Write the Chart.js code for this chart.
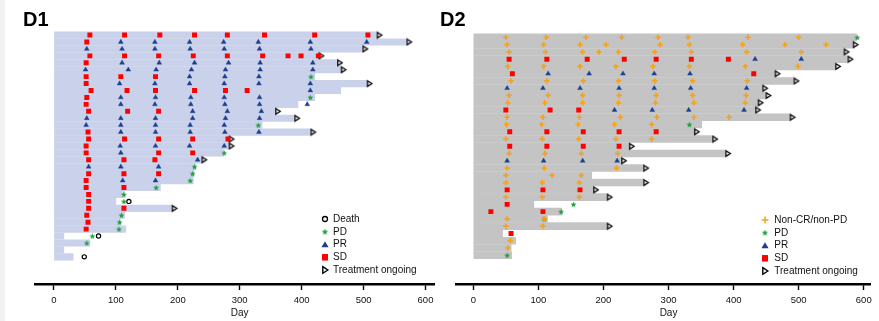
<!DOCTYPE html>
<html>
<head>
<meta charset="utf-8">
<script src="https://cdn.jsdelivr.net/npm/chart.js@4/dist/chart.umd.min.js"></script>
<style>
  html, body { margin: 0; padding: 0; background: #fff; width: 879px; height: 321px; overflow: hidden; }
  body { position: relative; font-family: 'Liberation Sans', Arial, sans-serif; }
  #strip { position: absolute; left: 0; top: 0; width: 5px; height: 321px; background: #f2f2f2; }
  #c1 { position: absolute; left: 0; top: 0; }
  #c2 { position: absolute; left: 440px; top: 0; }
  .panel { position: absolute; font-weight: bold; font-size: 20px; line-height: 20px; color: #000; }
</style>
</head>
<body>
<div id="strip"></div>
<canvas id="c1" width="440" height="321"></canvas>
<canvas id="c2" width="439" height="321"></canvas>
<div class="panel" style="left:23px;top:9px">D1</div>
<div class="panel" style="left:440px;top:9px">D2</div>
<script>
// ---------------- DATA ----------------
const xTicks = [0, 100, 200, 300, 400, 500, 600];
const axisTitle = 'Day';

// D1: treatment duration (days) per patient, top to bottom
const d1End = [521, 569, 498, 427, 457, 463, 421, 505, 463, 421, 394, 357, 388, 336, 414, 282, 282,
               274, 238, 229, 226, 225, 172, 114, 100, 190, 114, 107, 116, 16, 58, 16, 31];
const d1Ongoing = [1,1,1,1,1,1,0,1,0,0,0,1,1,0,1,1,1,0,1,0,0,0,0,0,0,1,0,0,0,0,0,0,0];
// [row, [assessment days]]
const d1SD = [
  [0, [58,114,171,227,280,340,421,507]], [1, [53]], [3, [58,114,169,225,280,337,378,399,427]],
  [4, [52]], [6, [52,108,164]], [7, [52]], [8, [60,118,164,227,277,312]], [9, [53]], [10, [52]],
  [11, [56,119,169]], [14, [55]], [15, [56,114,169,224,281]], [16, [52]], [17, [52,169,224]],
  [18, [56,113,163]], [20, [56,113,169]], [21, [52]], [22, [52,113]], [23, [56]], [24, [56]],
  [25, [56,113]], [26, [53]], [27, [55]], [28, [52]]
];
const d1PR = [
  [1, [108,163,219,274,330,414,505]], [2, [53,110,163,220,275,332,415]], [4, [110,170,227,282,333,418]],
  [5, [51,120,165,222,277,333,418]], [6, [219,276,331]], [7, [106,163,219,275,331,414]], [8, [414]],
  [9, [108,164,221,275,332]], [10, [108,163,221,276,332,409]], [11, [224,280,335]],
  [12, [53,108,164,224,277,332]], [13, [52,108,164,220,275]], [14, [108,164,220,276,331]],
  [16, [107,164,219,275]], [17, [108]], [18, [232]], [19, [56,108,169]], [21, [111,164]]
];
const d1PD = [
  [6, [415]], [9, [414]], [13, [330]], [17, [275]], [19, [227]], [20, [224]], [21, [220]], [22, [165]],
  [23, [113]], [24, [113]], [26, [109]], [27, [106]], [28, [105]], [29, [62]], [30, [53]]
];
const d1Death = [[24, [121]], [29, [72]], [32, [49]]];
const d1Legend = ['Death', 'PD', 'PR', 'SD', 'Treatment ongoing'];

// D2
const d2End = [589, 583, 569, 575, 556, 463, 492, 444, 449, 437, 433, 486, 351, 339, 367, 239,
               387, 227, 261, 182, 261, 184, 205, 93, 136, 114, 205, 45, 65, 58, 59];
const d2Ongoing = [0,1,1,1,1,1,1,1,1,1,1,1,0,1,1,1,1,1,1,0,1,1,1,0,0,0,1,0,0,0,0];
const d2NC = [
  [0, [50,112,173,228,284,330,422,500]], [1, [52,108,164,204,287,332,414,479,542]],
  [2, [55,111,168,193,223,279,335,420,504]], [4, [53,108,164,219,276,332,418,499]],
  [6, [58,113,169,223,279,337,421]], [8, [55,115,168,224,281,337,419]], [9, [53,110,168,223,280,339,418]],
  [11, [52,107,163,226,282,339,393]], [12, [51,105,161,217,274]], [14, [50,106,162,219,274]],
  [16, [55,110,166,222]], [18, [52,109,220]], [19, [50,121,166]], [20, [50,106,163]], [22, [50,106,163]],
  [25, [52,109]], [26, [50,107]], [28, [57]], [29, [53]]
];
const d2SD = [
  [3, [55,113,175,232,281,335,392]], [5, [60,431]], [10, [50,118,162]], [13, [56,113,169,224,281]],
  [15, [56,113,169,224]], [21, [52,107,164]], [23, [52]], [24, [27,107]], [27, [58]]
];
const d2PR = [
  [3, [433,504]], [5, [115,178,230,278,333]], [7, [52,107,164,224,278,334,420]],
  [10, [217,275,331,416]], [17, [52,108,168,221]]
];
const d2PD = [[0, [590]], [12, [332]], [23, [154]], [24, [135]], [25, [109]], [30, [52]]];
const d2Legend = ['Non-CR/non-PD', 'PD', 'PR', 'SD', 'Treatment ongoing'];

// ---------------- STYLE ----------------
const FONT = "'Liberation Sans', Arial, sans-serif";
const SD_COLOR = '#ff0000', PR_COLOR = '#1c3f8e', PD_COLOR = '#1f9e3c', NC_COLOR = '#f5a21c';

function starCanvas(R, color) {
  const s = Math.ceil(R * 2 + 2);
  const c = document.createElement('canvas'); c.width = s; c.height = s;
  const g = c.getContext('2d');
  g.fillStyle = color; g.beginPath();
  for (let i = 0; i < 10; i++) {
    const r = i % 2 ? R * 0.45 : R;
    const a = -Math.PI / 2 + i * Math.PI / 5;
    g.lineTo(s / 2 + r * Math.cos(a), s / 2 + 0.3 + r * Math.sin(a));
  }
  g.closePath(); g.fill();
  return c;
}
function ongoingCanvas(h, w, lw) {
  const W = Math.ceil(2 * (w + lw + 1)), H = Math.ceil(h + lw + 2);
  const c = document.createElement('canvas'); c.width = W; c.height = H;
  const g = c.getContext('2d');
  const x0 = W / 2 + 0.8, y0 = H / 2;
  g.beginPath(); g.moveTo(x0, y0 - h / 2); g.lineTo(x0 + w, y0); g.lineTo(x0, y0 + h / 2); g.closePath();
  g.fillStyle = '#fff'; g.fill(); g.lineWidth = lw; g.strokeStyle = '#000'; g.lineJoin = 'miter'; g.stroke();
  return c;
}
const starSmall = starCanvas(3.1, PD_COLOR);
const starBig = starCanvas(3.4, PD_COLOR);
const ongoingImg = ongoingCanvas(5.6, 4.4, 1.3);

const STYLE = {
  sd: { pointStyle: 'rect', pointRadius: 3.5, pointBackgroundColor: SD_COLOR, backgroundColor: SD_COLOR, pointBorderWidth: 0 },
  pr: { pointStyle: 'triangle', pointRadius: 2.8, pointBackgroundColor: PR_COLOR, backgroundColor: PR_COLOR,
        pointBorderColor: PR_COLOR, borderColor: PR_COLOR, pointBorderWidth: 0.4 },
  pd: { pointStyle: starSmall, pointRadius: 3 },
  death: { pointStyle: 'circle', pointRadius: 2.1, pointBackgroundColor: '#fff', backgroundColor: '#fff',
           pointBorderColor: '#000', borderColor: '#000', pointBorderWidth: 1.2 },
  nc: { pointStyle: 'cross', pointRadius: 2.7, pointBorderColor: NC_COLOR, borderColor: NC_COLOR, pointBorderWidth: 1.7 },
  ongoing: { pointStyle: ongoingImg, pointRadius: 4 }
};

function drawSymbol(ctx, kind, x, y) {
  ctx.save();
  if (kind === 'death') {
    ctx.beginPath(); ctx.arc(x, y, 2.5, 0, Math.PI * 2); ctx.fillStyle = '#fff'; ctx.fill();
    ctx.lineWidth = 1.3; ctx.strokeStyle = '#000'; ctx.stroke();
  } else if (kind === 'pd') {
    ctx.drawImage(starBig, x - starBig.width / 2, y - starBig.height / 2);
  } else if (kind === 'pr') {
    ctx.beginPath(); ctx.moveTo(x, y - 3.3); ctx.lineTo(x + 3.6, y + 2.8); ctx.lineTo(x - 3.6, y + 2.8); ctx.closePath();
    ctx.fillStyle = PR_COLOR; ctx.fill();
  } else if (kind === 'sd') {
    ctx.fillStyle = SD_COLOR; ctx.fillRect(x - 3, y - 3.2, 6, 6.5);
  } else if (kind === 'ongoing') {
    ctx.beginPath(); ctx.moveTo(x - 2.2, y - 3.3); ctx.lineTo(x + 2.8, y); ctx.lineTo(x - 2.2, y + 3.3); ctx.closePath();
    ctx.fillStyle = '#fff'; ctx.fill(); ctx.lineWidth = 1.4; ctx.strokeStyle = '#000'; ctx.stroke();
  } else if (kind === 'nc') {
    ctx.beginPath(); ctx.moveTo(x - 3.4, y); ctx.lineTo(x + 3.4, y); ctx.moveTo(x, y - 3.4); ctx.lineTo(x, y + 3.4);
    ctx.lineWidth = 1.5; ctx.strokeStyle = NC_COLOR; ctx.stroke();
  }
  ctx.restore();
}

const swimLegend = {
  id: 'swimLegend',
  afterDraw(chart, args, o) {
    const ctx = chart.ctx;
    ctx.save();
    ctx.font = '10px ' + FONT; ctx.textBaseline = 'middle'; ctx.textAlign = 'left';
    o.items.forEach((label, i) => {
      const ds = chart.data.datasets.find(d => d.label === label);
      const y = o.y0 + i * o.dy;
      drawSymbol(ctx, ds.sym, o.symX, y);
      ctx.fillStyle = '#111'; ctx.fillText(label, o.textX, y);
    });
    const xs = chart.scales.x;
    const cx = (xs.getPixelForValue(xTicks[0]) + xs.getPixelForValue(xTicks[xTicks.length - 1])) / 2;
    ctx.textAlign = 'center'; ctx.fillStyle = '#111';
    ctx.fillText(axisTitle, cx, o.titleY);
    ctx.restore();
  }
};

function toPoints(list) {
  const out = [];
  list.forEach(([row, days]) => days.forEach(d => out.push({ x: d, y: row })));
  return out.sort((a, b) => a.y - b.y);
}

function makeChart(id, p) {
  const datasets = [];
  p.markers.forEach(m => {
    datasets.push(Object.assign({ type: 'scatter', label: m.label, sym: m.kind, data: toPoints(m.data), order: m.order || 0 }, STYLE[m.kind]));
  });
  datasets.push(Object.assign({
    type: 'scatter', label: 'Treatment ongoing', sym: 'ongoing', order: 1,
    data: p.ends.map((e, i) => ({ x: e, y: i })).filter((pt, i) => p.ongoing[i])
  }, STYLE.ongoing));
  datasets.push({
    type: 'bar', label: 'Treatment duration', data: p.ends.map((e, i) => ({ x: e, y: i })),
    backgroundColor: p.barColor, borderWidth: 0, barThickness: p.barW, order: 10
  });
  return new Chart(document.getElementById(id), {
    type: 'bar',
    data: { datasets },
    options: {
      indexAxis: 'y', responsive: false, animation: false, devicePixelRatio: 1, events: [],
      layout: { padding: { left: p.padL, right: p.padR, top: p.padT, bottom: 0 } },
      plugins: {
        legend: { display: false }, tooltip: { enabled: false },
        swimLegend: { items: p.legend, symX: p.symX, textX: p.textX, y0: p.legY0, dy: 12.75, titleY: 313.5 }
      },
      scales: {
        y: { type: 'linear', reverse: true, min: -0.5, max: p.yMax, display: false },
        x: {
          type: 'linear', position: 'bottom', min: p.xMin, max: p.xMax,
          afterBuildTicks: s => { s.ticks = xTicks.map(v => ({ value: v })); },
          afterFit: s => { s.height = 36.5; },
          grid: { drawOnChartArea: false, drawTicks: true, tickLength: 5.5, tickColor: '#000', tickWidth: 1.4 },
          border: { display: true, color: '#000', width: 2.4 },
          ticks: { color: '#111', font: { family: FONT, size: 9.5 }, padding: 4.5, maxRotation: 0, autoSkip: false }
        }
      }
    },
    plugins: [swimLegend]
  });
}

makeChart('c1', {
  ends: d1End, ongoing: d1Ongoing, barColor: '#cad1ea', barW: 6.5,
  markers: [
    { label: 'SD', kind: 'sd', data: d1SD },
    { label: 'PR', kind: 'pr', data: d1PR },
    { label: 'PD', kind: 'pd', data: d1PD },
    { label: 'Death', kind: 'death', data: d1Death }
  ],
  legend: d1Legend, symX: 325, textX: 333, legY0: 219,
  padL: 35, padR: 4, padT: 14.74, yMax: 33.56, xMin: -30.6, xMax: 615
});

makeChart('c2', {
  ends: d2End, ongoing: d2Ongoing, barColor: '#c4c4c4', barW: 6.9,
  markers: [
    { label: 'Non-CR/non-PD', kind: 'nc', data: d2NC },
    { label: 'SD', kind: 'sd', data: d2SD },
    { label: 'PR', kind: 'pr', data: d2PR },
    { label: 'PD', kind: 'pd', data: d2PD }
  ],
  legend: d2Legend, symX: 325, textX: 334.3, legY0: 220,
  padL: 16, padR: 9, padT: 14.47, yMax: 31.38, xMin: -26.6, xMax: 609.6
});
</script>
</body>
</html>
